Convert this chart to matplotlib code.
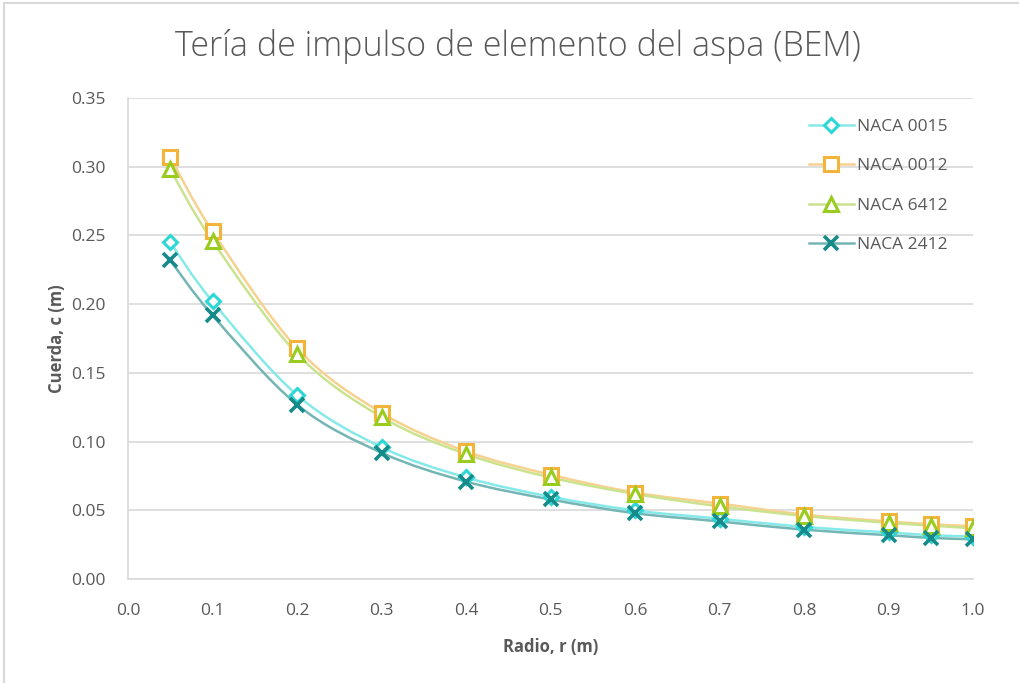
import numpy as np
import matplotlib.pyplot as plt
from matplotlib.path import Path
from matplotlib.patches import PathPatch, Rectangle
from matplotlib.lines import Line2D

# Radio de la sección del aspa (m)
radio = [0.05, 0.1, 0.2, 0.3, 0.4, 0.5, 0.6, 0.7, 0.8, 0.9, 0.95, 1.0]

# Cuerda calculada para cada perfil (m)
naca_0015 = [0.245, 0.202, 0.134, 0.096, 0.074, 0.060, 0.050, 0.044, 0.038, 0.034, 0.032, 0.031]
naca_0012 = [0.307, 0.253, 0.168, 0.121, 0.093, 0.076, 0.063, 0.055, 0.047, 0.042, 0.040, 0.0385]
naca_6412 = [0.298, 0.246, 0.164, 0.118, 0.091, 0.074, 0.062, 0.053, 0.046, 0.041, 0.039, 0.037]
naca_2412 = [0.232, 0.192, 0.127, 0.092, 0.071, 0.058, 0.048, 0.042, 0.036, 0.032, 0.030, 0.029]

series = [
    ("NACA 0015", naca_0015, "D", "#2ED6D6", "#86E9E9", 7.5),
    ("NACA 0012", naca_0012, "s", "#F2B53A", "#F6D190", 9.5),
    ("NACA 6412", naca_6412, "^", "#99CC1F", "#CBE38F", 9.5),
    ("NACA 2412", naca_2412, "x", "#178A8A", "#74B5B5", 9.5),
]

txt = "#595959"
plt.rcParams['font.family'] = ['Open Sans', 'DejaVu Sans']


def smooth_path(x, y):
    # curva suavizada tipo Catmull-Rom convertida a Bézier cúbica
    x = np.asarray(x, float)
    y = np.asarray(y, float)
    pts = np.column_stack([x, y])
    n = len(pts)
    verts = [pts[0]]
    codes = [Path.MOVETO]
    for i in range(n - 1):
        p0 = pts[i - 1] if i > 0 else pts[i]
        p1 = pts[i]
        p2 = pts[i + 1]
        p3 = pts[i + 2] if i + 2 < n else pts[i + 1]
        c1 = p1 + (p2 - p0) / 6.0
        c2 = p2 - (p3 - p1) / 6.0
        verts += [c1, c2, p2]
        codes += [Path.CURVE4] * 3
    return Path(verts, codes)


fig = plt.figure(figsize=(10.19, 6.83), dpi=100)
ax = fig.add_axes([0.1256, 0.152, 0.8294, 0.7045])

for name, vals, mk, mc, lc, ms in series:
    ax.add_patch(PathPatch(smooth_path(radio, vals), facecolor="none",
                           edgecolor=lc, lw=1.8, zorder=2))
    if mk == "x":
        ax.plot(radio, vals, ls="none", marker=mk, ms=ms, mew=2.6,
                color=mc, zorder=3)
    else:
        ax.plot(radio, vals, ls="none", marker=mk, ms=ms, mew=2.2,
                mec=mc, mfc="white", zorder=3)

ax.set_xlim(0, 1.0)
ax.set_ylim(0, 0.35)
ax.set_xticks(np.arange(0, 1.01, 0.1))
ax.set_yticks(np.arange(0, 0.351, 0.05))
ax.xaxis.set_major_formatter(plt.FormatStrFormatter("%.1f"))
ax.yaxis.set_major_formatter(plt.FormatStrFormatter("%.2f"))
ax.tick_params(axis="y", length=0, labelsize=12.5, colors=txt, pad=16)
ax.tick_params(axis="x", length=0, labelsize=12.5, colors=txt, pad=17)
ax.grid(axis="y", color="#D9D9D9", lw=1.2)
ax.set_axisbelow(True)
for s in ["top", "right"]:
    ax.spines[s].set_visible(False)
ax.spines["left"].set_color("#D9D9D9")
ax.spines["bottom"].set_color("#D9D9D9")
ax.spines["left"].set_linewidth(1.2)
ax.spines["bottom"].set_linewidth(1.2)

ax.set_xlabel("Radio, r (m)", fontsize=12, fontweight="bold", color=txt, labelpad=14)
ax.set_ylabel("Cuerda, c (m)", fontsize=12, fontweight="bold", color=txt, labelpad=4)

fig.text(0.508, 0.932, "Tería de impulso de elemento del aspa (BEM)",
         ha="center", va="center", fontsize=24.5, color=txt, fontweight="light")

handles = []
for name, vals, mk, mc, lc, ms in series:
    if mk == "x":
        h = Line2D([], [], color=lc, lw=1.8, marker=mk, ms=ms, mew=2.6, mec=mc)
    else:
        h = Line2D([], [], color=lc, lw=1.8, marker=mk, ms=ms, mew=2.2,
                   mec=mc, mfc="white")
    handles.append(h)
leg = ax.legend(handles, [s[0] for s in series], loc="upper left",
                bbox_to_anchor=(0.787, 0.99), frameon=False, fontsize=12.5,
                labelspacing=1.35, handlelength=2.6, handletextpad=0.2)
for t in leg.get_texts():
    t.set_color(txt)

# marco del gráfico
fig.patches.append(Rectangle((0.004, -0.01), 1.0, 1.006, transform=fig.transFigure,
                             fill=False, edgecolor="#D9D9D9", lw=1.5))

fig.savefig("out.png", dpi=100)
